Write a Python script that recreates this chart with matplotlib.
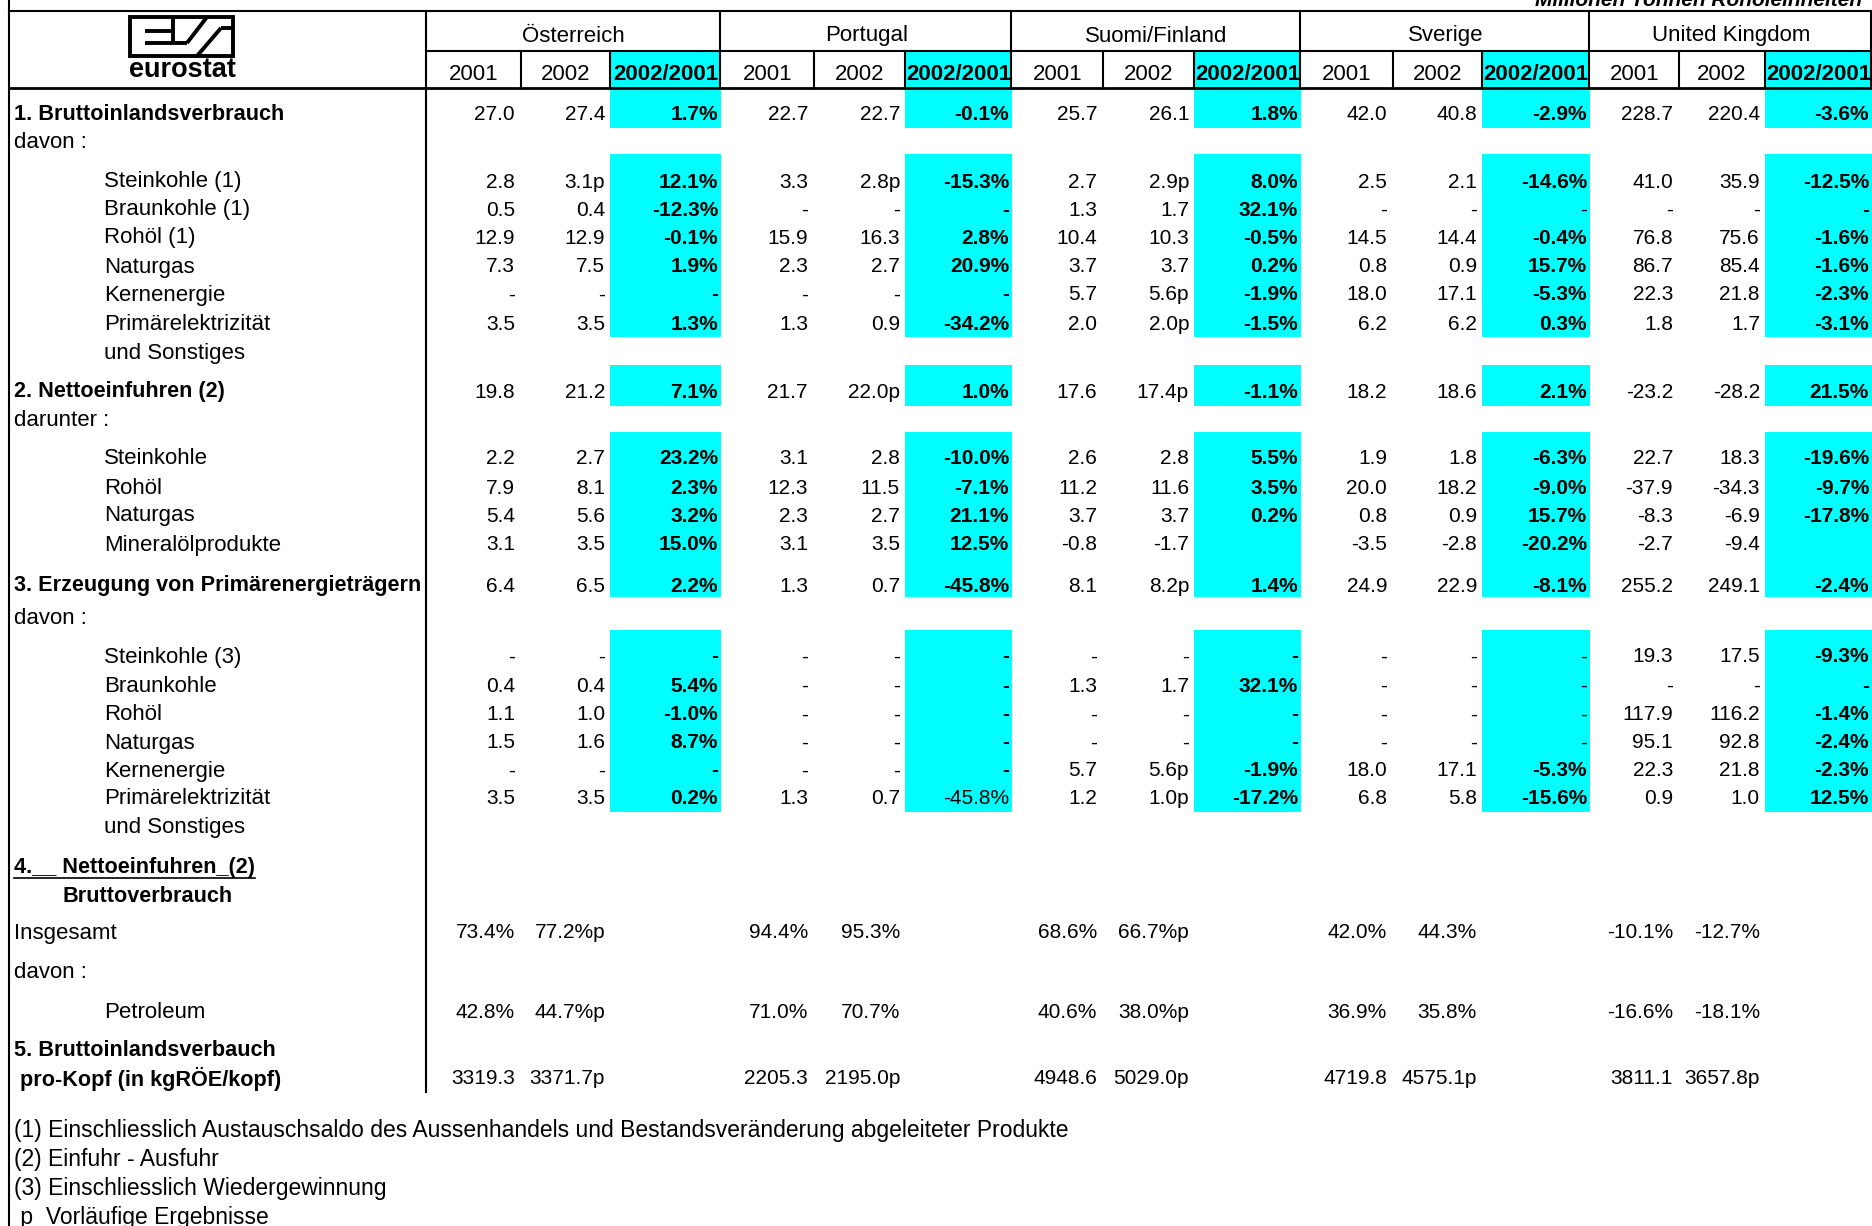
import matplotlib
matplotlib.use('Agg')
import matplotlib.pyplot as plt
from matplotlib.patches import Rectangle

# ---- data ----
title = "Millionen Tonnen Rohöleinheiten"
countries = ["Österreich", "Portugal", "Suomi/Finland", "Sverige", "United Kingdom"]
year_heads = ["2001", "2002", "2002/2001"]

row_labels = [
    "1. Bruttoinlandsverbrauch", "davon :",
    "Steinkohle (1)", "Braunkohle (1)", "Rohöl (1)", "Naturgas", "Kernenergie",
    "Primärelektrizität", "und Sonstiges",
    "2. Nettoeinfuhren (2)", "darunter :",
    "Steinkohle", "Rohöl", "Naturgas", "Mineralölprodukte",
    "3. Erzeugung von Primärenergieträgern", "davon :",
    "Steinkohle (3)", "Braunkohle", "Rohöl", "Naturgas", "Kernenergie",
    "Primärelektrizität", "und Sonstiges",
]

# 19 value rows: sec.1 (7), sec.2 (5), sec.3 (7)
v2001 = {
    "Österreich":     ["27.0", "2.8", "0.5", "12.9", "7.3", "-", "3.5", "19.8", "2.2", "7.9", "5.4", "3.1", "6.4", "-", "0.4", "1.1", "1.5", "-", "3.5"],
    "Portugal":       ["22.7", "3.3", "-", "15.9", "2.3", "-", "1.3", "21.7", "3.1", "12.3", "2.3", "3.1", "1.3", "-", "-", "-", "-", "-", "1.3"],
    "Suomi/Finland":  ["25.7", "2.7", "1.3", "10.4", "3.7", "5.7", "2.0", "17.6", "2.6", "11.2", "3.7", "-0.8", "8.1", "-", "1.3", "-", "-", "5.7", "1.2"],
    "Sverige":        ["42.0", "2.5", "-", "14.5", "0.8", "18.0", "6.2", "18.2", "1.9", "20.0", "0.8", "-3.5", "24.9", "-", "-", "-", "-", "18.0", "6.8"],
    "United Kingdom": ["228.7", "41.0", "-", "76.8", "86.7", "22.3", "1.8", "-23.2", "22.7", "-37.9", "-8.3", "-2.7", "255.2", "19.3", "-", "117.9", "95.1", "22.3", "0.9"],
}
v2002 = {
    "Österreich":     ["27.4", "3.1p", "0.4", "12.9", "7.5", "-", "3.5", "21.2", "2.7", "8.1", "5.6", "3.5", "6.5", "-", "0.4", "1.0", "1.6", "-", "3.5"],
    "Portugal":       ["22.7", "2.8p", "-", "16.3", "2.7", "-", "0.9", "22.0p", "2.8", "11.5", "2.7", "3.5", "0.7", "-", "-", "-", "-", "-", "0.7"],
    "Suomi/Finland":  ["26.1", "2.9p", "1.7", "10.3", "3.7", "5.6p", "2.0p", "17.4p", "2.8", "11.6", "3.7", "-1.7", "8.2p", "-", "1.7", "-", "-", "5.6p", "1.0p"],
    "Sverige":        ["40.8", "2.1", "-", "14.4", "0.9", "17.1", "6.2", "18.6", "1.8", "18.2", "0.9", "-2.8", "22.9", "-", "-", "-", "-", "17.1", "5.8"],
    "United Kingdom": ["220.4", "35.9", "-", "75.6", "85.4", "21.8", "1.7", "-28.2", "18.3", "-34.3", "-6.9", "-9.4", "249.1", "17.5", "-", "116.2", "92.8", "21.8", "1.0"],
}
change = {
    "Österreich":     ["1.7%", "12.1%", "-12.3%", "-0.1%", "1.9%", "-", "1.3%", "7.1%", "23.2%", "2.3%", "3.2%", "15.0%", "2.2%", "-", "5.4%", "-1.0%", "8.7%", "-", "0.2%"],
    "Portugal":       ["-0.1%", "-15.3%", "-", "2.8%", "20.9%", "-", "-34.2%", "1.0%", "-10.0%", "-7.1%", "21.1%", "12.5%", "-45.8%", "-", "-", "-", "-", "-", "-45.8%"],
    "Suomi/Finland":  ["1.8%", "8.0%", "32.1%", "-0.5%", "0.2%", "-1.9%", "-1.5%", "-1.1%", "5.5%", "3.5%", "0.2%", "", "1.4%", "-", "32.1%", "-", "-", "-1.9%", "-17.2%"],
    "Sverige":        ["-2.9%", "-14.6%", "-", "-0.4%", "15.7%", "-5.3%", "0.3%", "2.1%", "-6.3%", "-9.0%", "15.7%", "-20.2%", "-8.1%", "-", "-", "-", "-", "-5.3%", "-15.6%"],
    "United Kingdom": ["-3.6%", "-12.5%", "-", "-1.6%", "-1.6%", "-2.3%", "-3.1%", "21.5%", "-19.6%", "-9.7%", "-17.8%", "", "-2.4%", "-9.3%", "-", "-1.4%", "-2.4%", "-2.3%", "12.5%"],
}
# cells of the change column printed in normal weight
change_regular = [("Sverige", 2), ("Sverige", 13), ("Sverige", 14), ("Sverige", 15),
                  ("Sverige", 16), ("Portugal", 18)]

sec4_labels = ["4.__ Nettoeinfuhren_(2)", "Bruttoverbrauch", "Insgesamt", "davon :", "Petroleum"]
sec5_labels = ["5. Bruttoinlandsverbauch", "pro-Kopf (in kgRÖE/kopf)"]
total_2001 = ["73.4%", "94.4%", "68.6%", "42.0%", "-10.1%"]
total_2002 = ["77.2%p", "95.3%", "66.7%p", "44.3%", "-12.7%"]
petrol_2001 = ["42.8%", "71.0%", "40.6%", "36.9%", "-16.6%"]
petrol_2002 = ["44.7%p", "70.7%", "38.0%p", "35.8%", "-18.1%"]
percap_2001 = ["3319.3", "2205.3", "4948.6", "4719.8", "3811.1"]
percap_2002 = ["3371.7p", "2195.0p", "5029.0p", "4575.1p", "3657.8p"]

footnotes = [
    "(1) Einschliesslich Austauschsaldo des Aussenhandels und Bestandsveränderung abgeleiteter Produkte",
    "(2) Einfuhr - Ausfuhr",
    "(3) Einschliesslich Wiedergewinnung",
    " p  Vorläufige Ergebnisse",
]

# ---- layout (pixels) ----
W, H = 1872, 1226
FONT = ["Liberation Sans", "DejaVu Sans"]
CYAN = "#00FFFF"
FS = 15        # numbers
FS_LAB = 16    # regular labels
FS_NOTE = 16.5 # footnotes
FS_BOLD = 15.6 # bold labels
LW = 1.5
DY = 3         # text centre offset

fig = plt.figure(figsize=(W / 100, H / 100), dpi=100)
ax = fig.add_axes([0, 0, 1, 1])
ax.set_xlim(0, W)
ax.set_ylim(H, 0)
ax.axis('off')


def put(x, y, s, ha='left', bold=False, size=FS):
    return ax.text(x, y + DY, s, ha=ha, va='center', fontsize=size, family=FONT,
                   fontweight='bold' if bold else 'normal')


def label(x, y, s, bold=False):
    return put(x, y, s, bold=bold, size=FS_BOLD if bold else FS_LAB)


left = 9
label_right = 426
# column edges: per country [start, 2001|2002, 2002|change, end]
col_edges = [[426, 521, 610, 721], [721, 814, 905, 1012], [1012, 1103, 1194, 1301],
             [1301, 1393, 1482, 1590], [1590, 1679, 1765, 1872]]
y_top, y_mid, y_head = 11, 51, 88

# cyan blocks in the change columns
cyan_spans = [(y_mid, y_head), (y_head, 128), (154, 337), (365, 406), (432, 597), (630, 812)]
for e in col_edges:
    for y0, y1 in cyan_spans:
        ax.add_patch(Rectangle((e[2], y0), e[3] - e[2], y1 - y0, color=CYAN, lw=0, zorder=0))

# grid lines
ax.plot([left, left], [0, H], color='black', lw=LW)
ax.plot([left, W], [y_top, y_top], color='black', lw=LW)
ax.plot([label_right, W], [y_mid, y_mid], color='black', lw=LW)
ax.plot([left, W], [y_head, y_head], color='black', lw=2.0)
ax.plot([label_right, label_right], [y_top, 1092], color='black', lw=LW)
for e in col_edges:
    ax.plot([e[3] - 1, e[3] - 1], [y_top, y_head], color='black', lw=LW)
    for x in e[1:3]:
        ax.plot([x, x], [y_mid, y_head], color='black', lw=LW)

# title (cut off by the top edge, as in the source sheet)
ax.text(1862, 6, title, ha='right', va='baseline', fontsize=FS, family=FONT,
        fontweight='bold', fontstyle='italic')

# eurostat logo
lk = dict(color='black', lw=2.8, solid_capstyle='butt')
ax.add_patch(Rectangle((130, 17), 103, 39, fill=False, ec='black', lw=2.8))
ax.plot([145, 173], [31, 31], **lk)
ax.plot([145, 187], [43, 43], **lk)
ax.plot([173, 173], [17, 43], **lk)
ax.plot([187, 207], [43, 17], **lk)
ax.plot([197, 221], [56, 28], **lk)
ax.plot([221, 233], [28, 28], **lk)
ax.text(182, 70, "eurostat", ha='center', va='center', fontsize=19.5, family=FONT,
        fontweight='bold')

# header texts
for c, e in zip(countries, col_edges):
    put((e[0] + e[3]) / 2, 33, c, ha='center', size=16)
    for k, yh in enumerate(year_heads):
        put((e[k] + e[k + 1]) / 2, 71, yh, ha='center', size=16, bold=(k == 2))

# row layout: (y, x, bold, value index)
row_layout = [
    (112, 14, True, 0), (140, 14, False, None),
    (179, 104, False, 1), (207, 104, False, 2), (235, 104, False, 3), (264, 104, False, 4),
    (292, 104, False, 5), (321, 104, False, 6), (350, 104, False, None),
    (389, 14, True, 7), (418, 14, False, None),
    (456, 104, False, 8), (485, 104, False, 9), (513, 104, False, 10), (542, 104, False, 11),
    (583, 14, True, 12), (616, 14, False, None),
    (654, 104, False, 13), (683, 104, False, 14), (712, 104, False, 15), (740, 104, False, 16),
    (768, 104, False, 17), (796, 104, False, 18), (825, 104, False, None),
]

for lab, (y, x, b, vi) in zip(row_labels, row_layout):
    label(x, y, lab, bold=b)
    if vi is None:
        continue
    for c, e in zip(countries, col_edges):
        put(e[1] - 6, y, v2001[c][vi], ha='right')
        put(e[2] - 5, y, v2002[c][vi], ha='right')
        put(e[3] - 3, y, change[c][vi], ha='right',
            bold=(c, vi) not in change_regular)

# section 4 and 5
t4 = label(14, 864, sec4_labels[0], bold=True)
label(63, 893, sec4_labels[1], bold=True)
label(14, 930, sec4_labels[2])
label(14, 969, sec4_labels[3])
label(104, 1009, sec4_labels[4])
label(14, 1048, sec5_labels[0], bold=True)
label(20, 1076, sec5_labels[1], bold=True)

for i, e in enumerate(col_edges):
    put(e[1] - 6, 930, total_2001[i], ha='right')
    put(e[2] - 5, 930, total_2002[i], ha='right')
    put(e[1] - 6, 1009, petrol_2001[i], ha='right')
    put(e[2] - 5, 1009, petrol_2002[i], ha='right')
    put(e[1] - 6, 1076, percap_2001[i], ha='right')
    put(e[2] - 5, 1076, percap_2002[i], ha='right')

# underline of the section 4 heading
fig.canvas.draw()
bb = t4.get_window_extent()
(x0, _), (x1, _) = ax.transData.inverted().transform([[bb.x0, bb.y0], [bb.x1, bb.y0]])
ax.plot([x0, x1], [878, 878], color='black', lw=1.2)

for k, f in enumerate(footnotes):
    put(14, 1128 + 28.7 * k, f, size=FS_NOTE)

fig.savefig('out.png', dpi=100)
